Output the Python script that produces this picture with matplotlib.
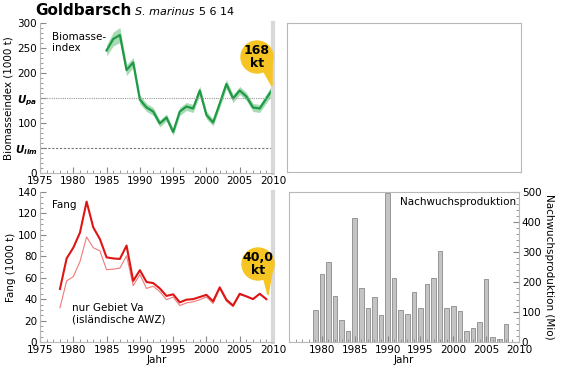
import matplotlib
matplotlib.use("Agg")
import matplotlib.pyplot as plt
from matplotlib.patches import Ellipse, Polygon
from matplotlib.ticker import MultipleLocator
import numpy as np

plt.rcParams['font.family'] = ['DejaVu Sans']

# biomass index (1000 t)
bio_years = list(range(1985, 2011))
bio = [245, 268, 276, 206, 221, 147, 131, 123, 99, 111, 82, 123, 133, 129,
       165, 116, 101, 139, 178, 149, 165, 153, 131, 129, 149, 169]
bio_err = [11, 14, 15, 11, 10, 9, 8, 8, 7, 7, 7, 8, 8, 8,
           9, 8, 7, 8, 9, 8, 8, 8, 8, 8, 9, 10]
u_pa = 150
u_lim = 50

# catch (1000 t)
catch_years = list(range(1978, 2010))
catch_total = [49.5, 78, 88, 102, 131, 107, 96, 79, 78, 77.5, 90, 57, 67, 56, 55, 50,
               43, 44.5, 37, 39.5, 40, 42, 44, 38, 51, 39.5, 34, 45, 42.6, 40, 45, 40]
catch_va = [32, 57, 61, 75, 98, 88, 85, 67.5, 68, 69, 80.5, 52.6, 63, 50, 52, 47,
            39.5, 42, 34, 36.5, 37.5, 39.5, 42, 36, 50, 38, 33, 44, 42.6, 40.5, 45, 40]

# recruitment (millions)
rec_years = list(range(1977, 2009))
recruit = [0, 0, 108, 227, 268, 155, 75, 36, 413, 179, 113, 149, 91, 498, 215, 108,
           95, 168, 113, 195, 215, 304, 115, 121, 103, 36, 47, 67, 211, 17, 10, 60]

W, H = 563, 368
fig = plt.figure(figsize=(W / 100, H / 100), dpi=100)


def box(x0, y0, x1, y1):
    return [x0 / W, 1 - y1 / H, (x1 - x0) / W, (y1 - y0) / H]


def px(x, y):
    return (x / W, 1 - y / H)


spine_col = '#b8b8b8'
green = '#1e9a45'
red = '#dd1515'
yellow = '#f6c523'


def style_left(ax):
    for s in ['left', 'bottom']:
        ax.spines[s].set_color(spine_col)
    ax.spines['top'].set_visible(False)
    ax.spines['right'].set_color('#d8d8d8')
    ax.spines['right'].set_linewidth(3)
    ax.set_xlim(1975, 2010)
    ax.set_xticks(range(1975, 2011, 5))
    ax.xaxis.set_minor_locator(MultipleLocator(1))
    ax.tick_params(which='both', direction='in', color='#888888', labelsize=7.5, pad=2)
    ax.tick_params(which='major', length=4)
    ax.tick_params(which='minor', length=2)


def bubble(x, y, r, tip, label):
    cx, cy = px(x, y)
    tri = Polygon([px(x + r * 0.3, y + r * 0.7), px(x + r * 0.95, y + r * 0.1), px(*tip)],
                  closed=True, transform=fig.transFigure, color=yellow, zorder=10)
    fig.patches.append(tri)
    circ = Ellipse((cx, cy), 2 * r / W, 2 * r / H, transform=fig.transFigure,
                   color=yellow, zorder=10)
    fig.patches.append(circ)
    fig.text(cx, cy, label, ha='center', va='center', fontsize=9, fontweight='bold',
             linespacing=1.05, zorder=11)


# top-left: biomass index
ax1 = fig.add_axes(box(40, 23, 273, 173))
style_left(ax1)
ax1.set_ylim(0, 300)
b = np.array(bio)
e = np.array(bio_err)
ax1.fill_between(bio_years, b - e, b + e, color='#a8dbb5', lw=0)
ax1.plot(bio_years, bio, color=green, lw=1.6)
ax1.axhline(u_pa, color='#999999', lw=0.8, ls=(0, (1, 1)))
ax1.axhline(u_lim, color='#777777', lw=0.8, ls=(0, (2, 1.5)))
ax1.set_yticks([0, u_lim, 100, u_pa, 200, 250, 300])
ax1.set_yticklabels(['0', r'$\mathbfit{U}_{\mathbfit{lim}}$', '100',
                     r'$\mathbfit{U}_{\mathbfit{pa}}$', '200', '250', '300'])
ax1.yaxis.set_minor_locator(MultipleLocator(10))
ax1.set_ylabel('Biomasseindex (1000 t)', fontsize=7.5, labelpad=1)
ax1.text(1976.8, 282, 'Biomasse-\nindex', fontsize=7.5, va='top', linespacing=1.1)

# top-right: empty panel
ax2 = fig.add_axes(box(287, 23, 521, 172))
ax2.set_xticks([])
ax2.set_yticks([])
for s in ax2.spines.values():
    s.set_color(spine_col)

# bottom-left: catch
ax3 = fig.add_axes(box(40, 192, 273, 342))
style_left(ax3)
ax3.set_ylim(0, 140)
ax3.set_yticks(range(0, 141, 20))
ax3.yaxis.set_minor_locator(MultipleLocator(5))
ax3.plot(catch_years, catch_va, color='#f07a7a', lw=0.8)
ax3.plot(catch_years, catch_total, color=red, lw=1.5)
ax3.set_ylabel('Fang (1000 t)', fontsize=7.5, labelpad=1)
ax3.set_xlabel('Jahr', fontsize=7.5, labelpad=0)
ax3.text(1976.8, 133, 'Fang', fontsize=7.5, va='top')
ax3.text(1979.8, 36, 'nur Gebiet Va\n(isländische AWZ)', fontsize=7.5, va='top', linespacing=1.15)

# bottom-right: recruitment
ax4 = fig.add_axes(box(289, 192, 519, 342))
ax4.bar(rec_years, recruit, width=0.7, color='#c4c4c4', edgecolor='#8a8a8a', lw=0.6)
ax4.set_xlim(1975, 2010)
ax4.set_ylim(0, 500)
ax4.set_xticks(range(1980, 2011, 5))
ax4.xaxis.set_minor_locator(MultipleLocator(1))
ax4.yaxis.tick_right()
ax4.yaxis.set_label_position('right')
ax4.set_yticks(range(0, 501, 100))
ax4.yaxis.set_minor_locator(MultipleLocator(20))
for s in ax4.spines.values():
    s.set_color(spine_col)
ax4.tick_params(which='both', direction='in', color='#888888', labelsize=7.5, pad=2)
ax4.tick_params(which='major', length=4)
ax4.tick_params(which='minor', length=2)
ax4.set_ylabel('Nachwuchsproduktion (Mio)', fontsize=7.5, rotation=-90, labelpad=9)
ax4.set_xlabel('Jahr', fontsize=7.5, labelpad=0)
ax4.text(2009.5, 485, 'Nachwuchsproduktion', fontsize=7.5, va='top', ha='right')

# title
fig.text(35 / W, 1 - 15 / H, 'Goldbarsch', fontsize=11, fontweight='bold', va='baseline')
fig.text(135 / W, 1 - 15 / H, 'S. marinus', fontsize=8, fontstyle='italic', va='baseline')
fig.text(199 / W, 1 - 15 / H, '5 6 14', fontsize=8, va='baseline')

# callouts
bubble(257, 57, 16, (272, 86), '168\nkt')
bubble(258, 264, 16, (268, 295), '40,0\nkt')

fig.savefig('out.png', dpi=100)
